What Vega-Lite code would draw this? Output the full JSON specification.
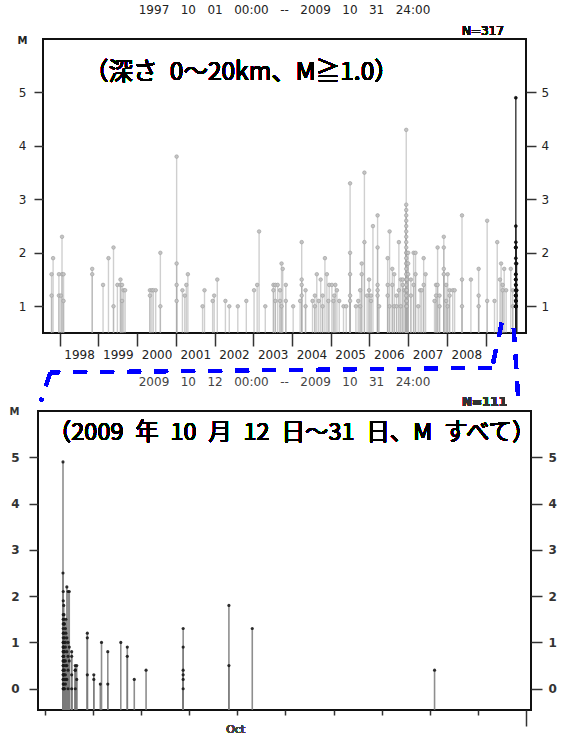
{
  "$schema": "https://vega.github.io/schema/vega-lite/v6.json",
  "background": "white",
  "padding": {"left": 8, "top": 3, "right": 5, "bottom": 5},
  "config": {
    "view": {"stroke": "#111", "strokeWidth": 2},
    "font": "DejaVu Sans",
    "axis": {"labelFont": "DejaVu Sans", "titleFont": "DejaVu Sans", "grid": false, "domain": false, "tickColor": "#333", "tickWidth": 1.5, "labelColor": "#222", "labelFontSize": 12}
  },
  "spacing": 78,
  "bounds": "flush",
  "center": true,
  "vconcat": [
    {
      "width": 483,
      "height": 294,
      "title": {"text": "1997\u00a0\u00a0\u00a010\u00a0\u00a0\u00a001\u00a0\u00a0\u00a000:00\u00a0\u00a0\u00a0--\u00a0\u00a0\u00a02009\u00a0\u00a0\u00a010\u00a0\u00a0\u00a031\u00a0\u00a0\u00a024:00", "font": "DejaVu Sans", "fontSize": 12, "fontWeight": "normal", "color": "#222", "offset": 8, "anchor": "middle"},
      "data": {"values": [
        {"t":1997.79,"m":1.6,"g":"p"},{"t":1997.79,"m":1.2,"g":"p"},{"t":1997.83,"m":1.9,"g":"p"},{"t":1997.98,"m":1.6,"g":"p"},{"t":1997.98,"m":1.2,"g":"p"},{"t":1998.03,"m":1.2,"g":"p"},{"t":1998.06,"m":2.3,"g":"p"},{"t":1998.06,"m":1.6,"g":"p"},{"t":1998.10,"m":1.6,"g":"p"},{"t":1998.10,"m":1.1,"g":"p"},
        {"t":1998.84,"m":1.7,"g":"p"},{"t":1998.84,"m":1.6,"g":"p"},{"t":1999.12,"m":1.4,"g":"p"},{"t":1999.26,"m":1.9,"g":"p"},{"t":1999.39,"m":2.1,"g":"p"},{"t":1999.39,"m":1.0,"g":"p"},{"t":1999.49,"m":1.4,"g":"p"},{"t":1999.57,"m":1.5,"g":"p"},{"t":1999.57,"m":1.4,"g":"p"},{"t":1999.61,"m":1.4,"g":"p"},{"t":1999.61,"m":1.1,"g":"p"},{"t":1999.65,"m":1.3,"g":"p"},{"t":1999.69,"m":1.3,"g":"p"},
        {"t":2000.33,"m":1.3,"g":"p"},{"t":2000.33,"m":1.2,"g":"p"},{"t":2000.38,"m":1.3,"g":"p"},{"t":2000.42,"m":1.3,"g":"p"},{"t":2000.48,"m":1.3,"g":"p"},{"t":2000.60,"m":2.0,"g":"p"},{"t":2000.60,"m":1.0,"g":"p"},
        {"t":2001.02,"m":3.8,"g":"p"},{"t":2001.02,"m":1.8,"g":"p"},{"t":2001.02,"m":1.4,"g":"p"},{"t":2001.02,"m":1.1,"g":"p"},{"t":2001.17,"m":1.3,"g":"p"},{"t":2001.23,"m":1.2,"g":"p"},{"t":2001.27,"m":1.4,"g":"p"},{"t":2001.31,"m":1.6,"g":"p"},{"t":2001.69,"m":1.0,"g":"p"},{"t":2001.74,"m":1.3,"g":"p"},{"t":2001.95,"m":1.1,"g":"p"},{"t":2001.99,"m":1.2,"g":"p"},
        {"t":2002.07,"m":1.5,"g":"p"},{"t":2002.28,"m":1.1,"g":"p"},{"t":2002.38,"m":1.0,"g":"p"},{"t":2002.60,"m":1.0,"g":"p"},{"t":2002.82,"m":1.1,"g":"p"},
        {"t":2003.02,"m":1.3,"g":"p"},{"t":2003.10,"m":1.4,"g":"p"},{"t":2003.15,"m":2.4,"g":"p"},{"t":2003.31,"m":1.0,"g":"p"},{"t":2003.52,"m":1.4,"g":"p"},{"t":2003.52,"m":1.3,"g":"p"},{"t":2003.57,"m":1.4,"g":"p"},{"t":2003.57,"m":1.1,"g":"p"},{"t":2003.63,"m":1.4,"g":"p"},{"t":2003.69,"m":1.3,"g":"p"},{"t":2003.69,"m":1.1,"g":"p"},{"t":2003.73,"m":1.8,"g":"p"},{"t":2003.73,"m":1.0,"g":"p"},{"t":2003.76,"m":1.7,"g":"p"},{"t":2003.84,"m":1.4,"g":"p"},{"t":2003.84,"m":1.1,"g":"p"},
        {"t":2004.03,"m":1.0,"g":"p"},{"t":2004.21,"m":1.1,"g":"p"},{"t":2004.25,"m":2.2,"g":"p"},{"t":2004.25,"m":1.5,"g":"p"},{"t":2004.25,"m":1.4,"g":"p"},{"t":2004.25,"m":1.2,"g":"p"},{"t":2004.35,"m":1.3,"g":"p"},{"t":2004.35,"m":1.0,"g":"p"},{"t":2004.53,"m":1.1,"g":"p"},{"t":2004.59,"m":1.2,"g":"p"},{"t":2004.59,"m":1.0,"g":"p"},{"t":2004.64,"m":1.6,"g":"p"},{"t":2004.69,"m":1.1,"g":"p"},{"t":2004.74,"m":1.5,"g":"p"},{"t":2004.79,"m":1.2,"g":"p"},{"t":2004.79,"m":1.0,"g":"p"},{"t":2004.85,"m":1.9,"g":"p"},{"t":2004.90,"m":1.6,"g":"p"},{"t":2004.94,"m":1.1,"g":"p"},{"t":2004.96,"m":1.4,"g":"p"},
        {"t":2005.03,"m":1.4,"g":"p"},{"t":2005.07,"m":1.1,"g":"p"},{"t":2005.09,"m":1.2,"g":"p"},{"t":2005.12,"m":1.4,"g":"p"},{"t":2005.16,"m":1.3,"g":"p"},{"t":2005.22,"m":1.1,"g":"p"},{"t":2005.33,"m":1.0,"g":"p"},{"t":2005.40,"m":1.0,"g":"p"},{"t":2005.50,"m":3.3,"g":"p"},{"t":2005.50,"m":2.0,"g":"p"},{"t":2005.50,"m":1.6,"g":"p"},{"t":2005.50,"m":1.2,"g":"p"},{"t":2005.50,"m":1.1,"g":"p"},{"t":2005.65,"m":1.0,"g":"p"},{"t":2005.71,"m":1.1,"g":"p"},{"t":2005.76,"m":1.3,"g":"p"},{"t":2005.76,"m":1.0,"g":"p"},{"t":2005.80,"m":1.8,"g":"p"},{"t":2005.80,"m":1.6,"g":"p"},{"t":2005.87,"m":3.5,"g":"p"},{"t":2005.87,"m":2.2,"g":"p"},{"t":2005.94,"m":1.2,"g":"p"},{"t":2005.99,"m":1.5,"g":"p"},{"t":2005.99,"m":1.3,"g":"p"},
        {"t":2006.04,"m":1.2,"g":"p"},{"t":2006.04,"m":1.1,"g":"p"},{"t":2006.09,"m":2.5,"g":"p"},{"t":2006.21,"m":2.7,"g":"p"},{"t":2006.21,"m":2.1,"g":"p"},{"t":2006.21,"m":1.4,"g":"p"},{"t":2006.21,"m":1.3,"g":"p"},{"t":2006.21,"m":1.2,"g":"p"},{"t":2006.25,"m":1.0,"g":"p"},{"t":2006.47,"m":1.9,"g":"p"},{"t":2006.47,"m":1.4,"g":"p"},{"t":2006.47,"m":1.2,"g":"p"},{"t":2006.52,"m":2.4,"g":"p"},{"t":2006.52,"m":1.0,"g":"p"},{"t":2006.59,"m":1.7,"g":"p"},{"t":2006.59,"m":1.4,"g":"p"},{"t":2006.64,"m":1.6,"g":"p"},{"t":2006.64,"m":1.0,"g":"p"},{"t":2006.70,"m":1.2,"g":"p"},{"t":2006.70,"m":1.0,"g":"p"},{"t":2006.76,"m":2.2,"g":"p"},{"t":2006.76,"m":1.3,"g":"p"},{"t":2006.81,"m":1.5,"g":"p"},{"t":2006.81,"m":1.0,"g":"p"},{"t":2006.86,"m":1.5,"g":"p"},{"t":2006.86,"m":1.4,"g":"p"},{"t":2006.90,"m":1.3,"g":"p"},
        {"t":2006.95,"m":4.3,"g":"p"},{"t":2006.95,"m":2.9,"g":"p"},{"t":2006.95,"m":2.8,"g":"p"},{"t":2006.95,"m":2.7,"g":"p"},{"t":2006.95,"m":2.6,"g":"p"},{"t":2006.95,"m":2.5,"g":"p"},{"t":2006.95,"m":2.4,"g":"p"},{"t":2006.95,"m":2.3,"g":"p"},{"t":2006.95,"m":2.2,"g":"p"},{"t":2006.95,"m":2.1,"g":"p"},{"t":2006.95,"m":2.0,"g":"p"},{"t":2006.95,"m":1.9,"g":"p"},{"t":2006.95,"m":1.8,"g":"p"},{"t":2006.95,"m":1.7,"g":"p"},{"t":2006.95,"m":1.6,"g":"p"},{"t":2006.95,"m":1.5,"g":"p"},{"t":2006.95,"m":1.4,"g":"p"},{"t":2006.95,"m":1.3,"g":"p"},{"t":2006.95,"m":1.2,"g":"p"},{"t":2006.95,"m":1.1,"g":"p"},{"t":2006.95,"m":1.0,"g":"p"},
        {"t":2006.965,"m":2.0,"g":"p"},{"t":2006.965,"m":1.8,"g":"p"},{"t":2006.965,"m":1.5,"g":"p"},{"t":2006.965,"m":1.3,"g":"p"},{"t":2006.965,"m":1.1,"g":"p"},{"t":2006.965,"m":1.0,"g":"p"},
        {"t":2007.00,"m":2.0,"g":"p"},{"t":2007.00,"m":1.8,"g":"p"},{"t":2007.00,"m":1.6,"g":"p"},{"t":2007.07,"m":1.5,"g":"p"},{"t":2007.07,"m":1.2,"g":"p"},{"t":2007.14,"m":2.0,"g":"p"},{"t":2007.14,"m":1.4,"g":"p"},{"t":2007.19,"m":2.0,"g":"p"},{"t":2007.19,"m":1.6,"g":"p"},{"t":2007.26,"m":1.0,"g":"p"},{"t":2007.31,"m":1.3,"g":"p"},{"t":2007.35,"m":1.3,"g":"p"},{"t":2007.40,"m":1.9,"g":"p"},{"t":2007.40,"m":1.4,"g":"p"},{"t":2007.45,"m":1.6,"g":"p"},{"t":2007.68,"m":1.1,"g":"p"},{"t":2007.72,"m":1.4,"g":"p"},{"t":2007.72,"m":1.2,"g":"p"},{"t":2007.76,"m":2.1,"g":"p"},{"t":2007.76,"m":1.4,"g":"p"},{"t":2007.81,"m":1.2,"g":"p"},{"t":2007.81,"m":1.0,"g":"p"},{"t":2007.92,"m":2.3,"g":"p"},{"t":2007.92,"m":2.1,"g":"p"},{"t":2007.92,"m":1.7,"g":"p"},{"t":2007.92,"m":1.6,"g":"p"},{"t":2007.98,"m":1.4,"g":"p"},{"t":2007.98,"m":1.1,"g":"p"},
        {"t":2008.02,"m":1.6,"g":"p"},{"t":2008.02,"m":1.0,"g":"p"},{"t":2008.07,"m":1.3,"g":"p"},{"t":2008.07,"m":1.2,"g":"p"},{"t":2008.15,"m":1.3,"g":"p"},{"t":2008.20,"m":1.3,"g":"p"},{"t":2008.39,"m":2.7,"g":"p"},{"t":2008.39,"m":1.5,"g":"p"},{"t":2008.39,"m":1.0,"g":"p"},{"t":2008.62,"m":1.5,"g":"p"},{"t":2008.82,"m":1.7,"g":"p"},{"t":2008.82,"m":1.2,"g":"p"},{"t":2008.82,"m":1.0,"g":"p"},
        {"t":2009.04,"m":2.6,"g":"p"},{"t":2009.04,"m":1.1,"g":"p"},{"t":2009.23,"m":1.1,"g":"p"},{"t":2009.30,"m":2.2,"g":"p"},{"t":2009.37,"m":1.5,"g":"p"},{"t":2009.40,"m":1.8,"g":"p"},{"t":2009.44,"m":1.4,"g":"p"},{"t":2009.44,"m":1.3,"g":"p"},{"t":2009.48,"m":1.7,"g":"p"},{"t":2009.53,"m":1.3,"g":"p"},{"t":2009.65,"m":1.7,"g":"p"},{"t":2009.70,"m":1.3,"g":"p"},{"t":2009.70,"m":1.0,"g":"p"},
        {"t":2009.780,"m":4.9,"g":"r"},{"t":2009.780,"m":2.5,"g":"r"},{"t":2009.780,"m":2.1,"g":"r"},{"t":2009.780,"m":1.9,"g":"r"},{"t":2009.780,"m":1.6,"g":"r"},{"t":2009.780,"m":1.5,"g":"r"},{"t":2009.780,"m":1.4,"g":"r"},{"t":2009.780,"m":1.3,"g":"r"},{"t":2009.780,"m":1.2,"g":"r"},{"t":2009.780,"m":1.1,"g":"r"},{"t":2009.780,"m":1.0,"g":"r"},{"t":2009.780,"m":1.0,"g":"r"},{"t":2009.780,"m":1.8,"g":"r"},{"t":2009.780,"m":1.5,"g":"r"},{"t":2009.780,"m":1.2,"g":"r"},{"t":2009.780,"m":1.0,"g":"r"},{"t":2009.780,"m":1.6,"g":"r"},{"t":2009.780,"m":1.4,"g":"r"},{"t":2009.780,"m":1.0,"g":"r"},{"t":2009.780,"m":1.4,"g":"r"},{"t":2009.780,"m":1.1,"g":"r"},{"t":2009.780,"m":1.3,"g":"r"},{"t":2009.780,"m":1.0,"g":"r"},{"t":2009.780,"m":1.5,"g":"r"},{"t":2009.780,"m":1.2,"g":"r"},{"t":2009.781,"m":2.2,"g":"r"},{"t":2009.781,"m":1.1,"g":"r"},{"t":2009.781,"m":2.1,"g":"r"},{"t":2009.781,"m":1.0,"g":"r"},{"t":2009.781,"m":2.1,"g":"r"},
        {"t":2009.783,"m":1.2,"g":"r"},{"t":2009.783,"m":1.1,"g":"r"},{"t":2009.784,"m":1.0,"g":"r"},{"t":2009.787,"m":1.0,"g":"r"},{"t":2009.794,"m":1.3,"g":"r"},{"t":2009.799,"m":1.8,"g":"r"},{"t":2009.802,"m":1.3,"g":"r"}
      ]},
      "layer": [
        {
          "mark": {"type": "rule", "strokeWidth": 1.4},
          "encoding": {
            "x": {"field": "t", "type": "quantitative", "scale": {"domain": [1997.569, 2010.043], "nice": false, "zero": false},
              "axis": {"values": [1998, 1999, 2000, 2001, 2002, 2003, 2004, 2005, 2006, 2007, 2008, 2009], "format": "d", "labelExpr": "datum.value < 2009 ? datum.label : ''", "labelOffset": 19.4, "tickSize": 13, "labelPadding": 3, "labelFlush": false, "labelOverlap": false, "title": null}},
            "y": {"field": "m", "type": "quantitative", "scale": {"domain": [0.5, 6.0], "nice": false, "zero": false},
              "axis": {"orient": "left", "values": [1, 2, 3, 4, 5], "format": "d", "tickSize": 9, "labelPadding": 8, "title": "M", "titleAngle": 0, "titleX": -21, "titleY": 1, "titleAlign": "center", "titleBaseline": "middle", "titleFontSize": 10, "titleFontWeight": "bold", "titleColor": "#222"}},
            "y2": {"datum": 0.5},
            "color": {"field": "g", "type": "nominal", "scale": {"domain": ["p", "r"], "range": ["#a8a8a8", "#222222"]}, "legend": null},
            "opacity": {"field": "g", "type": "nominal", "scale": {"domain": ["p", "r"], "range": [0.55, 0.9]}, "legend": null}
          }
        },
        {
          "mark": {"type": "point", "filled": true, "strokeWidth": 0.6, "opacity": 1},
          "encoding": {
            "x": {"field": "t", "type": "quantitative"},
            "y": {"field": "m", "type": "quantitative", "axis": {"orient": "right", "values": [1, 2, 3, 4, 5], "format": "d", "tickSize": 10, "labelPadding": 5, "title": null}},
            "fill": {"field": "g", "type": "nominal", "scale": {"domain": ["p", "r"], "range": ["#c4c4c4", "#111111"]}, "legend": null},
            "stroke": {"field": "g", "type": "nominal", "scale": {"domain": ["p", "r"], "range": ["#9c9c9c", "#111111"]}, "legend": null},
            "size": {"field": "g", "type": "nominal", "scale": {"domain": ["p", "r"], "range": [13, 9]}, "legend": null}
          }
        },
        {
          "mark": {"type": "text", "align": "left", "baseline": "middle", "font": "Noto Sans CJK JP", "fontSize": 24.5, "fontWeight": "normal", "color": "#000"},
          "encoding": {"x": {"datum": 1998.63}, "y": {"datum": 5.36, "axis": null}, "text": {"value": "（深さ\u20020〜20km、M≧1.0）"}}
        },
        {
          "mark": {"type": "text", "align": "right", "baseline": "middle", "font": "DejaVu Sans", "fontSize": 12, "color": "#111"},
          "encoding": {"x": {"datum": 2009.475}, "y": {"datum": 6.143, "axis": null}, "text": {"value": "N=317"}}
        },
        {
          "mark": {"type": "rule", "color": "#0000ff", "strokeWidth": 3.5, "strokeDash": [14, 13]},
          "encoding": {"x": {"datum": 2009.415}, "x2": {"datum": 2009.165}, "y": {"datum": 0.687, "axis": null}, "y2": {"datum": -0.153}}
        },
        {
          "mark": {"type": "rule", "color": "#0000ff", "strokeWidth": 3.5, "strokeDash": [14, 13]},
          "encoding": {"x": {"datum": 2009.165}, "x2": {"datum": 1997.757}, "y": {"datum": -0.153, "axis": null}, "y2": {"datum": -0.238}}
        },
        {
          "mark": {"type": "rule", "color": "#0000ff", "strokeWidth": 3.5, "strokeDash": [14, 13]},
          "encoding": {"x": {"datum": 1997.757}, "x2": {"datum": 1997.517}, "y": {"datum": -0.238, "axis": null}, "y2": {"datum": -0.776}}
        },
        {
          "mark": {"type": "rule", "color": "#0000ff", "strokeWidth": 3.5, "strokeDash": [14, 13]},
          "encoding": {"x": {"datum": 2009.725}, "x2": {"datum": 2009.844}, "y": {"datum": 0.593, "axis": null}, "y2": {"datum": -0.751}}
        }
      ],
      "resolve": {"axis": {"y": "independent"}}
    },
    {
      "width": 493,
      "height": 299,
      "title": {"text": "2009\u00a0\u00a0\u00a010\u00a0\u00a0\u00a012\u00a0\u00a0\u00a000:00\u00a0\u00a0\u00a0--\u00a0\u00a0\u00a02009\u00a0\u00a0\u00a010\u00a0\u00a0\u00a031\u00a0\u00a0\u00a024:00", "font": "DejaVu Sans", "fontSize": 12, "fontWeight": "normal", "color": "#444", "offset": 7, "anchor": "middle"},
      "data": {"values": [
        {"d":0.76,"m":4.9},{"d":0.76,"m":2.5},
        {"d":0.77,"m":2.1},{"d":0.77,"m":1.9},{"d":0.77,"m":1.6},{"d":0.77,"m":1.5},{"d":0.77,"m":1.4},{"d":0.77,"m":1.3},{"d":0.77,"m":1.2},{"d":0.77,"m":1.1},{"d":0.77,"m":1.0},{"d":0.77,"m":1.0},{"d":0.77,"m":0.9},{"d":0.77,"m":0.9},{"d":0.77,"m":0.8},{"d":0.77,"m":0.8},{"d":0.77,"m":0.7},{"d":0.77,"m":0.7},{"d":0.77,"m":0.6},{"d":0.77,"m":0.6},{"d":0.77,"m":0.5},{"d":0.77,"m":0.5},{"d":0.77,"m":0.4},{"d":0.77,"m":0.4},{"d":0.77,"m":0.3},{"d":0.77,"m":0.3},{"d":0.77,"m":0.2},{"d":0.77,"m":0.2},{"d":0.77,"m":0.1},{"d":0.77,"m":0.0},{"d":0.77,"m":0.0},
        {"d":0.79,"m":1.8},{"d":0.79,"m":1.5},{"d":0.79,"m":1.2},{"d":0.79,"m":1.0},{"d":0.79,"m":0.9},{"d":0.79,"m":0.7},{"d":0.79,"m":0.5},{"d":0.79,"m":0.3},{"d":0.79,"m":0.1},
        {"d":0.80,"m":1.6},{"d":0.80,"m":1.4},{"d":0.80,"m":1.0},{"d":0.80,"m":0.8},{"d":0.80,"m":0.6},{"d":0.80,"m":0.3},{"d":0.80,"m":0.0},
        {"d":0.82,"m":1.4},{"d":0.82,"m":1.1},{"d":0.82,"m":0.8},{"d":0.82,"m":0.6},{"d":0.82,"m":0.4},{"d":0.82,"m":0.2},{"d":0.82,"m":0.0},
        {"d":0.86,"m":1.3},{"d":0.86,"m":1.0},{"d":0.86,"m":0.9},{"d":0.86,"m":0.6},{"d":0.86,"m":0.3},{"d":0.86,"m":0.1},
        {"d":0.88,"m":1.5},{"d":0.88,"m":1.2},{"d":0.88,"m":0.5},{"d":0.88,"m":0.2},
        {"d":0.92,"m":2.2},{"d":0.92,"m":1.1},{"d":0.92,"m":0.8},{"d":0.92,"m":0.5},{"d":0.92,"m":0.2},
        {"d":0.97,"m":2.1},{"d":0.97,"m":1.0},{"d":0.97,"m":0.7},{"d":0.97,"m":0.4},{"d":0.97,"m":0.0},
        {"d":1.02,"m":2.1},{"d":1.02,"m":0.9},{"d":1.02,"m":0.6},
        {"d":1.12,"m":0.8},{"d":1.12,"m":0.7},{"d":1.12,"m":0.3},{"d":1.12,"m":0.0},
        {"d":1.27,"m":0.5},{"d":1.27,"m":0.4},{"d":1.27,"m":0.4},{"d":1.27,"m":0.0},
        {"d":1.33,"m":0.5},{"d":1.33,"m":0.2},
        {"d":1.77,"m":1.2},{"d":1.77,"m":1.1},{"d":1.77,"m":0.3},
        {"d":2.04,"m":0.3},{"d":2.04,"m":0.2},
        {"d":2.31,"m":0.1},{"d":2.36,"m":1.0},
        {"d":2.62,"m":0.8},{"d":2.62,"m":0.1},
        {"d":3.16,"m":1.0},
        {"d":3.43,"m":0.9},{"d":3.43,"m":0.7},
        {"d":3.72,"m":0.2},
        {"d":4.21,"m":0.4},
        {"d":5.75,"m":1.3},{"d":5.75,"m":0.9},{"d":5.75,"m":0.4},{"d":5.75,"m":0.3},{"d":5.75,"m":0.2},{"d":5.75,"m":0.0},
        {"d":7.65,"m":1.8},{"d":7.65,"m":0.5},
        {"d":8.62,"m":1.3},
        {"d":16.19,"m":0.4}
      ]},
      "layer": [
        {
          "mark": {"type": "rule", "strokeWidth": 1.6, "color": "#7a7a7a", "opacity": 0.85},
          "encoding": {
            "x": {"field": "d", "type": "quantitative", "scale": {"domain": [-0.278, 20.195], "nice": false, "zero": false},
              "axis": {"values": [0,1,2,3,4,5,6,7,8,9,10,11,12,13,14,15,16,17,18,19,20], "tickSize": {"condition": [{"test": "datum.value == 9", "value": 8}, {"test": "datum.value == 20", "value": 16}], "value": 5}, "labels": false, "title": null}},
            "y": {"field": "m", "type": "quantitative", "scale": {"domain": [-0.46, 6.0], "nice": false, "zero": false},
              "axis": {"orient": "left", "values": [0, 1, 2, 3, 4, 5], "format": "d", "tickSize": 9, "labelPadding": 10, "labelFontWeight": "bold", "labelColor": "#333", "title": "M", "titleAngle": 0, "titleX": -24, "titleY": 0, "titleAlign": "center", "titleBaseline": "middle", "titleFontSize": 10, "titleFontWeight": "bold", "titleColor": "#333"}},
            "y2": {"datum": -0.46}
          }
        },
        {
          "mark": {"type": "point", "filled": true, "color": "#1a1a1a", "size": 10, "opacity": 0.9},
          "encoding": {
            "x": {"field": "d", "type": "quantitative"},
            "y": {"field": "m", "type": "quantitative", "axis": {"orient": "right", "values": [0, 1, 2, 3, 4, 5], "format": "d", "tickSize": 11, "labelPadding": 6, "labelFontWeight": "bold", "labelColor": "#333", "title": null}}
          }
        },
        {
          "mark": {"type": "text", "align": "left", "baseline": "middle", "font": "Noto Sans CJK JP", "fontSize": 23.5, "fontWeight": "normal", "color": "#000"},
          "encoding": {"x": {"datum": 0.13}, "y": {"datum": 5.535, "axis": null}, "text": {"value": "（2009\u2002年\u200210\u2002月\u200212\u2002日〜31\u2002日、M\u2002すべて）"}}
        },
        {
          "mark": {"type": "text", "align": "right", "baseline": "middle", "font": "DejaVu Sans", "fontSize": 12, "fontWeight": "bold", "color": "#333"},
          "encoding": {"x": {"datum": 19.2}, "y": {"datum": 6.2, "axis": null}, "text": {"value": "N=111"}}
        },
        {
          "mark": {"type": "text", "align": "center", "baseline": "middle", "font": "DejaVu Sans", "fontSize": 11, "color": "#444"},
          "encoding": {"x": {"datum": 7.93}, "y": {"datum": -0.9, "axis": null}, "text": {"value": "Oct"}}
        }
      ],
      "resolve": {"axis": {"y": "independent"}}
    }
  ]
}
